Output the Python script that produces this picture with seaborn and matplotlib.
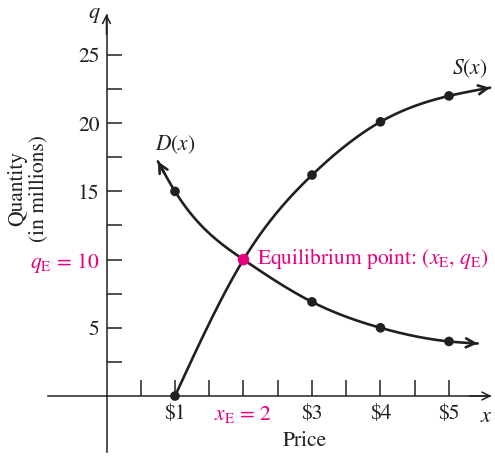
import numpy as np
import pandas as pd
import matplotlib
matplotlib.use("Agg")
import matplotlib.pyplot as plt
import seaborn as sns

# ---- data ----
price = [1, 2, 3, 4, 5]
demand = [15, 10, 6.9, 5.0, 4.0]
supply = [0, 10, 16.2, 20.1, 22.0]
# visible curve end points (arrow tips)
demand_x_ends = [0.75, 5.42]
demand_q_ends = [17.2, 3.85]
supply_x_end = [5.6]
supply_q_end = [22.6]
eq_x, eq_q = [2], [10]
y_ticks = [2.5, 5, 7.5, 10, 12.5, 15, 17.5, 20, 22.5, 25]
y_labels = ["", "5", "", r"$q_{\rm E}$ = 10", "", "15", "", "20", "", "25"]
x_ticks = [0.5, 1, 1.5, 2, 2.5, 3, 3.5, 4, 4.5, 5]
x_labels = ["", "$1", "", r"$x_{\rm E}$ = 2", "", "$3", "", "$4", "", "$5"]

INK = "#231F20"
MAG = "#E6007E"
FS = 15.5

sns.set_theme(style="white")
plt.rcParams["font.family"] = ["STIXGeneral", "DejaVu Serif"]
plt.rcParams["mathtext.fontset"] = "stix"
plt.rcParams["text.color"] = INK


def natural_spline(xs, ys, n=300):
    xs = np.asarray(xs, float); ys = np.asarray(ys, float)
    k = len(xs); h = np.diff(xs)
    A = np.zeros((k, k)); b = np.zeros(k)
    A[0, 0] = A[-1, -1] = 1
    for i in range(1, k - 1):
        A[i, i - 1] = h[i - 1]; A[i, i] = 2 * (h[i - 1] + h[i]); A[i, i + 1] = h[i]
        b[i] = 6 * ((ys[i + 1] - ys[i]) / h[i] - (ys[i] - ys[i - 1]) / h[i - 1])
    M = np.linalg.solve(A, b)
    xx = np.linspace(xs[0], xs[-1], n)
    idx = np.clip(np.searchsorted(xs, xx) - 1, 0, k - 2)
    x0, x1 = xs[idx], xs[idx + 1]; hh = x1 - x0
    yy = (M[idx] * (x1 - xx) ** 3 / (6 * hh) + M[idx + 1] * (xx - x0) ** 3 / (6 * hh)
          + (ys[idx] / hh - M[idx] * hh / 6) * (x1 - xx)
          + (ys[idx + 1] / hh - M[idx + 1] * hh / 6) * (xx - x0))
    return xx, yy


fig = plt.figure(figsize=(4.95, 4.57), dpi=100)
ax = fig.add_axes([0, 0, 1, 1])
ax.set_xlim(-1.555, 5.672)
ax.set_ylim(-4.47, 29.03)
ax.patch.set_alpha(0)

dxs = [demand_x_ends[0]] + price + [demand_x_ends[1]]
dqs = [demand_q_ends[0]] + demand + [demand_q_ends[1]]
sxs = price + supply_x_end
sqs = supply + supply_q_end
dxx, dyy = natural_spline(dxs, dqs)
sxx, syy = natural_spline(sxs, sqs)
curves = pd.DataFrame({"x": np.r_[dxx, sxx], "q": np.r_[dyy, syy],
                       "curve": ["D"] * len(dxx) + ["S"] * len(sxx)})
sns.lineplot(data=curves, x="x", y="q", units="curve", estimator=None, sort=False,
             color=INK, lw=1.9, ax=ax, zorder=3)

# arrow heads at curve ends
def head(xx, yy, at_start):
    if at_start:
        tip, tail = (xx[0], yy[0]), (xx[6], yy[6])
    else:
        tip, tail = (xx[-1], yy[-1]), (xx[-7], yy[-7])
    ax.annotate("", xy=tip, xytext=tail,
                arrowprops=dict(arrowstyle="->", color=INK, lw=1.9,
                                mutation_scale=16, shrinkA=0, shrinkB=0))
head(dxx, dyy, True)
head(dxx, dyy, False)
head(sxx, syy, False)

pts = pd.DataFrame({"x": price + price, "q": demand + supply})
pts = pts[~((pts.x == eq_x[0]) & (pts.q == eq_q[0]))]
sns.scatterplot(data=pts, x="x", y="q", color=INK, s=48, edgecolor="none", ax=ax, zorder=4)
sns.scatterplot(x=eq_x, y=eq_q, color=MAG, s=70, marker="o", edgecolor="none", ax=ax, zorder=5)

# axes through the origin
for s in ["top", "right"]:
    ax.spines[s].set_visible(False)
ax.spines["left"].set_position(("data", 0))
ax.spines["bottom"].set_position(("data", 0))
ax.spines["left"].set_bounds(-4.1, 27.9)
ax.spines["bottom"].set_bounds(-0.85, 5.6)
for s in ["left", "bottom"]:
    ax.spines[s].set_color(INK)
    ax.spines[s].set_linewidth(1.1)
ax.annotate("", xy=(0, 28.0), xytext=(0, 26.5),
            arrowprops=dict(arrowstyle="->", color=INK, lw=1.1, mutation_scale=14, shrinkA=0, shrinkB=0))
ax.annotate("", xy=(5.62, 0), xytext=(5.3, 0),
            arrowprops=dict(arrowstyle="->", color=INK, lw=1.1, mutation_scale=14, shrinkA=0, shrinkB=0))

ax.set_yticks(y_ticks)
ax.set_yticklabels(y_labels)
ax.set_xticks(x_ticks)
ax.set_xticklabels(x_labels)
ax.tick_params(axis="y", direction="in", length=11, width=1.1, color=INK,
               labelsize=FS, pad=5, labelcolor=INK, left=True)
ax.tick_params(axis="x", direction="in", length=11.5, width=1.1, color=INK,
               labelsize=FS, pad=6, labelcolor=INK, bottom=True)
for t, v in zip(ax.yaxis.get_major_ticks(), y_ticks):
    if v == eq_q[0]:
        t.tick1line.set_color(MAG); t.label1.set_color(MAG)
for t, v in zip(ax.xaxis.get_major_ticks(), x_ticks):
    if v == eq_x[0]:
        t.tick1line.set_color(MAG); t.label1.set_color(MAG)
ax.set_xlabel(""); ax.set_ylabel("")

# texts
ax.text(-0.08, 27.9, "$q$", ha="right", va="center", fontsize=16)
ax.text(5.55, -0.8, "$x$", ha="center", va="top", fontsize=16)
ax.text(2.9, -2.55, "Price", ha="center", va="top", fontsize=FS)
ax.text(-1.15, 15.2, "Quantity\n(in millions)", rotation=90, ha="center", va="center",
        fontsize=FS, linespacing=1.05)
ax.text(1.0, 17.6, "$D(x)$", ha="center", va="bottom", fontsize=FS)
ax.text(5.3, 23.2, "$S(x)$", ha="center", va="bottom", fontsize=FS)
ax.text(2.2, 10.1, r"Equilibrium point: $(x_{\rm E},\, q_{\rm E})$", ha="left", va="center",
        fontsize=FS, color=MAG)

fig.savefig("out.png", dpi=100)
